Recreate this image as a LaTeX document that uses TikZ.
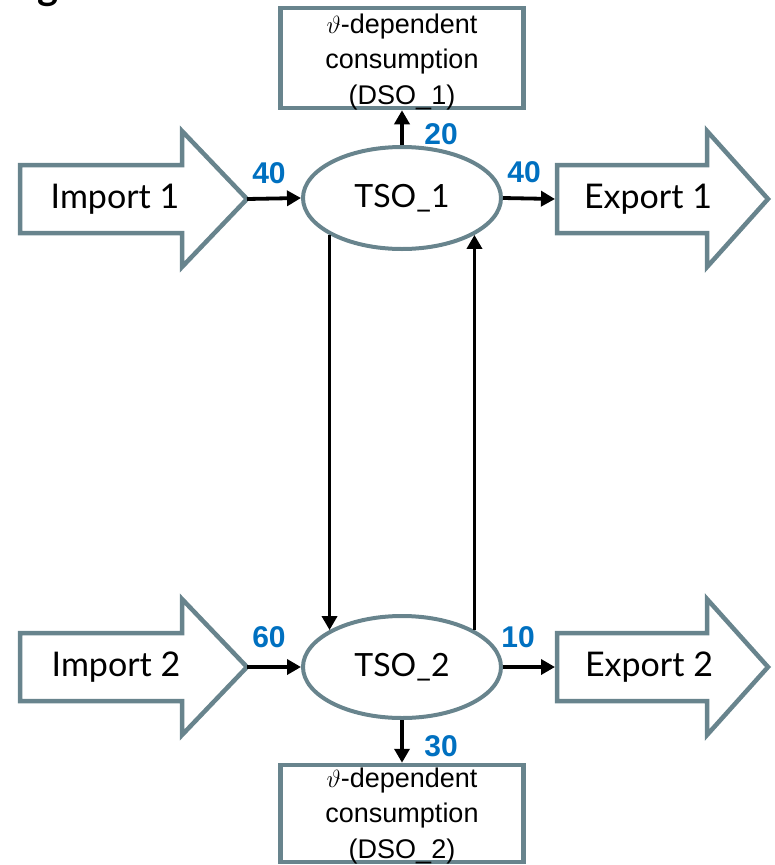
\documentclass[tikz,border=0pt]{standalone}
\usepackage{fontspec}
\setmainfont{Liberation Sans}
\newfontfamily\gill{Lato}
\usetikzlibrary{arrows.meta,shapes.geometric}
\definecolor{bordc}{RGB}{104,132,141}
\definecolor{numblue}{RGB}{0,112,192}
\begin{document}
\begin{tikzpicture}[x=1pt,y=-1pt,
  bigarrow/.style={draw=bordc,line width=4.5pt,fill=white,line join=miter},
  tso/.style={ellipse,draw=bordc,line width=4pt,minimum width=198pt,minimum height=102pt,inner sep=0pt,font=\gill\fontsize{32}{38}\selectfont},
  dsobox/.style={rectangle,draw=bordc,line width=4.5pt,minimum width=243pt,inner sep=0pt},
  dsotext/.style={align=center,inner sep=0pt,font=\fontsize{27}{35.5}\selectfont},
  flow/.style={line width=3.8pt,-{Triangle[length=14pt,width=15pt]}},
  num/.style={font=\bfseries\fontsize{30}{36}\selectfont,text=numblue,inner sep=0pt},
  arrtext/.style={font=\gill\fontsize{34}{40}\selectfont,inner sep=0pt}
]
\clip (0,0) rectangle (774,865);

% cut-off title letter
\node[font=\gill\bfseries\fontsize{40}{44}\selectfont,anchor=base,inner sep=0pt] (gtitle) at (48,-1) {g};

% big arrows
\draw[bigarrow] (20,165) -- (182,165) -- (182,131) -- (247,199) -- (182,267) -- (182,233) -- (20,233) -- cycle;
\coordinate (imp1tip) at (247,199);
\node[arrtext] (imp1) at (115,199) {Import 1};

\draw[bigarrow] (557,165) -- (707,165) -- (707,131) -- (768,199) -- (707,267) -- (707,233) -- (557,233) -- cycle;
\coordinate (exp1tail) at (555,199);
\node[arrtext] (exp1) at (648,199) {Export 1};

\draw[bigarrow] (20,633) -- (182,633) -- (182,599) -- (247,667) -- (182,735) -- (182,701) -- (20,701) -- cycle;
\coordinate (imp2tip) at (247,667);
\node[arrtext] (imp2) at (116,667) {Import 2};

\draw[bigarrow] (557,633) -- (707,633) -- (707,599) -- (768,667) -- (707,735) -- (707,701) -- (557,701) -- cycle;
\coordinate (exp2tail) at (555,667);
\node[arrtext] (exp2) at (649,667) {Export 2};

% TSO ellipses
\node[tso] (tso1) at (402,198) {TSO\_1};
\node[tso] (tso2) at (402,667) {TSO\_2};

% DSO boxes
\node[dsobox,minimum height=100pt] (dso1) at (402,58) {};
\node[dsotext] (dso1t) at (402,62) {$\vartheta$-dependent\\consumption\\(DSO\_1)};
\node[dsobox,minimum height=97pt] (dso2) at (402,813.5) {};
\node[dsotext] (dso2t) at (402,816) {$\vartheta$-dependent\\consumption\\(DSO\_2)};

% flows
\draw[flow] (tso1.north) -- (dso1.south);
\draw[flow] (tso2.south) -- (dso2.north);
\draw[flow] (imp1tip) -- (tso1.west);
\draw[flow] (tso1.east) -- (exp1tail);
\draw[flow] (imp2tip) -- (tso2.west);
\draw[flow] (tso2.east) -- (exp2tail);
\draw[flow] (tso1.207) -- (tso2.153);
\draw[flow] (tso2.27) -- (tso1.333);

% flow values
\node[num] (v20) at (441,134) {20};
\node[num] (v40a) at (269,173) {40};
\node[num] (v40b) at (524,172) {40};
\node[num] (v60) at (269,637) {60};
\node[num] (v10) at (518,637) {10};
\node[num] (v30) at (441,746) {30};
\end{tikzpicture}
\end{document}
